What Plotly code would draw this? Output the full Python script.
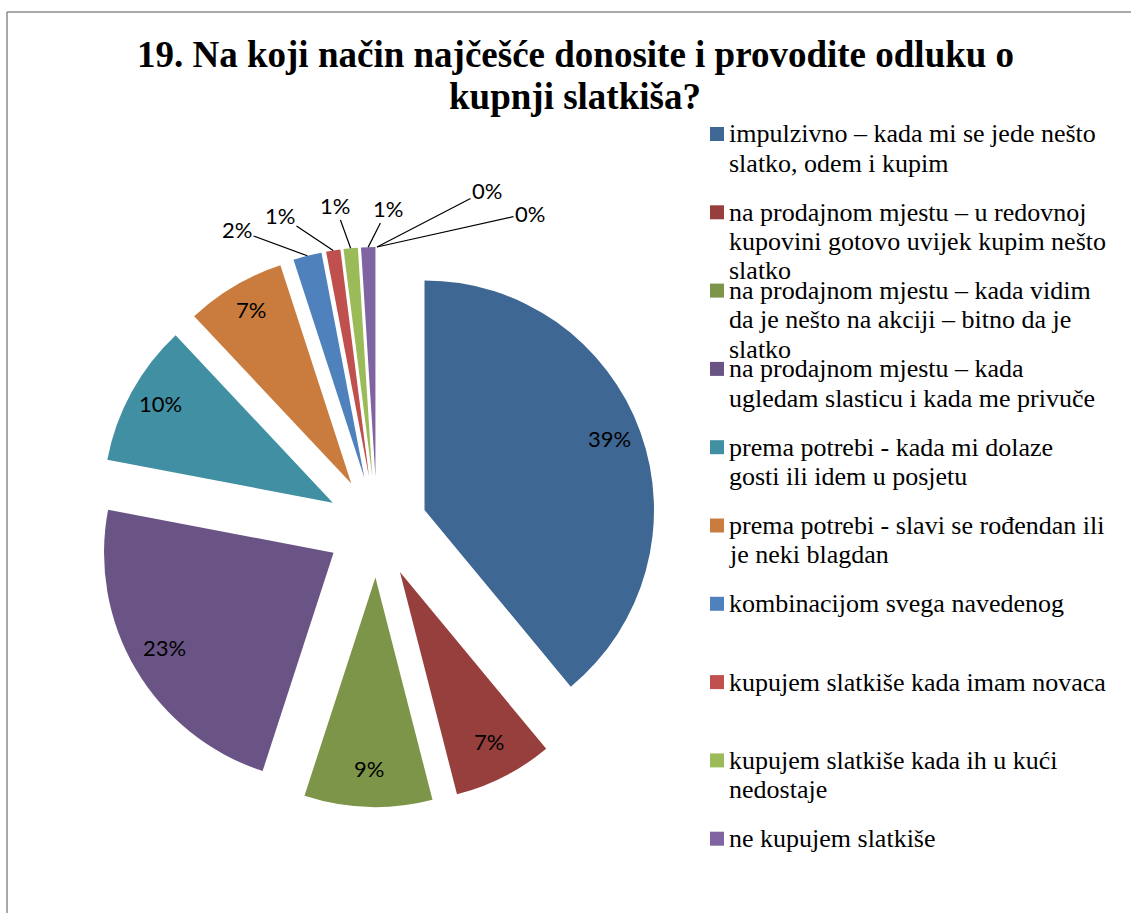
import math
import plotly.graph_objects as go

title_lines = ["19. Na koji način najčešće donosite i provodite odluku o", "kupnji slatkiša?"]

categories = [
    "impulzivno – kada mi se jede nešto\nslatko, odem i kupim",
    "na prodajnom mjestu – u redovnoj\nkupovini gotovo uvijek kupim nešto\nslatko",
    "na prodajnom mjestu – kada vidim\nda je nešto na akciji – bitno da je\nslatko",
    "na prodajnom mjestu – kada\nugledam slasticu i kada me privuče",
    "prema potrebi - kada mi dolaze\ngosti ili idem u posjetu",
    "prema potrebi - slavi se rođendan ili\nje neki blagdan",
    "kombinacijom svega navedenog",
    "kupujem slatkiše kada imam novaca",
    "kupujem slatkiše kada ih u kući\nnedostaje",
    "ne kupujem slatkiše",
    "ostalo 1",
    "ostalo 2",
]
shown_in_legend = 10

values = [39, 7, 9, 23, 10, 7, 2, 1, 1, 1, 0, 0]

slice_colors = ["#3F6793", "#963F3C", "#7C9548", "#6A5485", "#418FA2", "#C97C3E",
                "#4F81BD", "#C0504D", "#9BBB59", "#8064A2", "#4BACC6", "#F79646"]

# absolute positions (px) of the labels that sit outside the small slices
outside_label_pos = {6: (237, 230), 7: (280, 215), 8: (335, 205), 9: (388, 208),
                     10: (487, 190), 11: (530, 213)}

W, H = 1131, 913
PULL = 0.22
CX, CY, HALF = 377, 527, 280  # pie domain centre and half-size in px

SERIF = "Liberation Serif"
SANS = "Lato"

fig = go.Figure()
fig.add_trace(go.Pie(
    values=values,
    labels=[c.replace("\n", " ") for c in categories],
    sort=False,
    direction="clockwise",
    rotation=0,
    pull=[PULL] * len(values),
    marker=dict(colors=slice_colors, line=dict(width=0)),
    textinfo="none",
    showlegend=False,
    domain=dict(x=[(CX - HALF) / W, (CX + HALF) / W], y=[(H - CY - HALF) / H, (H - CY + HALF) / H]),
    hoverinfo="label+percent",
))

# data labels computed from the slice geometry
total = sum(values)
r = (2 * HALF) / (2 * (1 + PULL))
cum = 0.0
for i, v in enumerate(values):
    mid = (cum + v / 2) / total
    cum += v
    ang = 2 * math.pi * mid
    sx, sy = math.sin(ang), -math.cos(ang)
    txt = f"{round(100 * v / total):.0f}%"
    if i in outside_label_pos:
        tip_d = r * (1 + PULL)
        tx, ty = CX + tip_d * sx, CY + tip_d * sy
        lx, ly = outside_label_pos[i]
        fig.add_annotation(xref="paper", yref="paper", x=tx / W, y=1 - ty / H,
                           ax=lx - tx, ay=ly - ty, showarrow=True, arrowhead=0, arrowwidth=1.2,
                           arrowcolor="#000000", standoff=0, text=txt,
                           font=dict(family=SANS, size=22, color="#000000"))
    else:
        d = r * (PULL + 0.855)
        lx, ly = CX + d * sx, CY + d * sy - 5
        fig.add_annotation(xref="paper", yref="paper", x=lx / W, y=1 - ly / H,
                           xanchor="center", yanchor="middle",
                           showarrow=False, text=txt,
                           font=dict(family=SANS, size=22, color="#000000"))

# manual legend (one annotation per text line for tight line spacing)
legend_top = 134
legend_step = 78.3
line_gap = 29.3
for i in range(shown_in_legend):
    yc = legend_top + i * legend_step
    fig.add_shape(type="rect", xref="paper", yref="paper",
                  x0=710 / W, x1=724 / W, y0=1 - (yc - 7) / H, y1=1 - (yc + 7) / H,
                  fillcolor=slice_colors[i], line=dict(width=0))
    for k, line in enumerate(categories[i].split("\n")):
        fig.add_annotation(xref="paper", yref="paper", x=727 / W, y=1 - (yc + k * line_gap) / H,
                           xanchor="left", yanchor="middle", align="left", showarrow=False,
                           text=line,
                           font=dict(family=SERIF, size=26, color="#000000"))

# title
for k, line in enumerate(title_lines):
    fig.add_annotation(xref="paper", yref="paper", x=575 / W, y=1 - (55 + k * 42) / H,
                       xanchor="center", yanchor="middle", showarrow=False,
                       text="<b>" + line + "</b>",
                       font=dict(family=SERIF, size=37, color="#000000"))

# chart border
fig.add_shape(type="line", xref="paper", yref="paper", x0=7 / W, x1=1, y0=1 - 12 / H, y1=1 - 12 / H,
              line=dict(color="#8C8C8C", width=1.5))
fig.add_shape(type="line", xref="paper", yref="paper", x0=7 / W, x1=7 / W, y0=0, y1=1 - 12 / H,
              line=dict(color="#8C8C8C", width=1.5))

fig.update_layout(
    width=W, height=H,
    margin=dict(l=0, r=0, t=0, b=0),
    paper_bgcolor="white",
    plot_bgcolor="white",
)

fig.write_html("out.html", config={"displayModeBar": False},
               post_script="document.body.style.margin='0px';")
